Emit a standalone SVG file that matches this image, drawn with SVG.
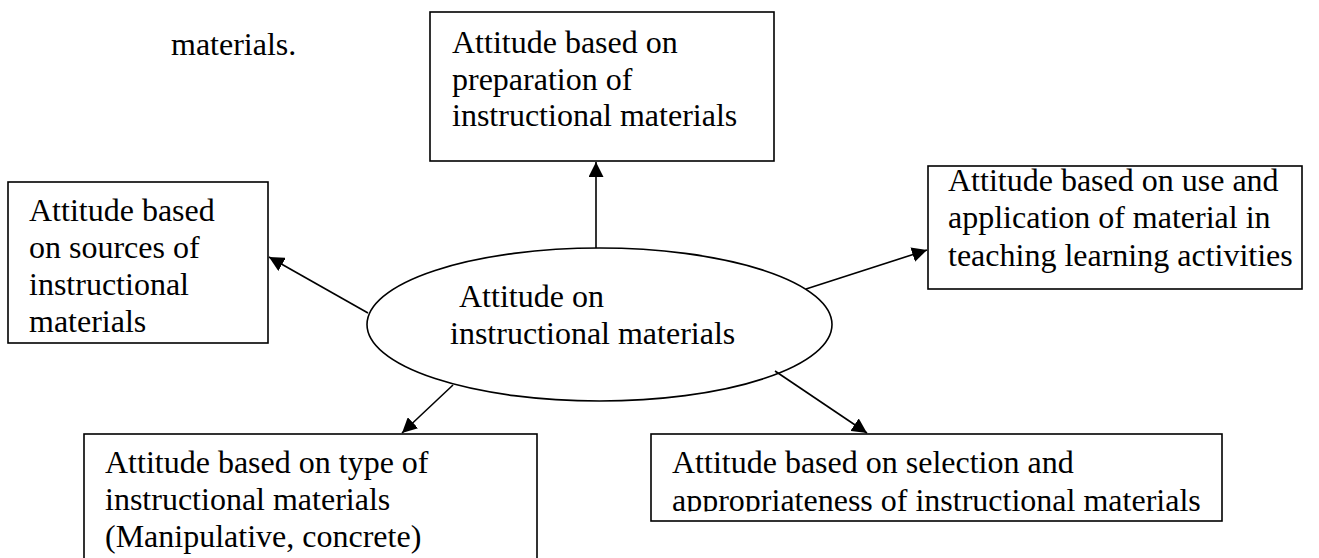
<svg xmlns="http://www.w3.org/2000/svg" width="1319" height="558" viewBox="0 0 1319 558">
<style>
.box{fill:#fff;stroke:#000;stroke-width:1.6}
text{font-family:'Liberation Serif','Times New Roman',Times,serif;font-size:32px;fill:#000}
.c{stroke:#000;stroke-width:1.6;fill:none}
</style>
<defs>
<marker id="ah" viewBox="0 0 15 15" refX="15" refY="7.5" markerWidth="15" markerHeight="15" markerUnits="userSpaceOnUse" orient="auto">
<path d="M0,0 L15,7.5 L0,15 Z" fill="#000"/>
</marker>
<clipPath id="clipSel"><rect x="651" y="434" width="571" height="77.5"/></clipPath>
</defs>
<rect width="1319" height="558" fill="#fff"/>
<g font-family="Liberation Serif, serif" font-size="32">
<text x="171" y="55">materials.</text>
<g id="preparation">
<rect class="box" x="430" y="12" width="344" height="149"/>
<text x="452" y="53">Attitude based on</text>
<text x="452" y="90">preparation of</text>
<text x="452" y="126">instructional materials</text>
</g>
<g id="sources">
<rect class="box" x="8" y="182" width="260" height="161"/>
<text x="29" y="221">Attitude based</text>
<text x="29" y="258">on sources of</text>
<text x="29" y="295">instructional</text>
<text x="29" y="332">materials</text>
</g>
<g id="use">
<rect class="box" x="928" y="166" width="374" height="123"/>
<text x="948" y="191">Attitude based on use and</text>
<text x="948" y="228">application of material in</text>
<text x="948" y="266">teaching learning activities</text>
</g>
<g id="center">
<ellipse class="box" cx="599.5" cy="324.5" rx="232.5" ry="76.5"/>
<text x="459" y="307">Attitude on</text>
<text x="450" y="344">instructional materials</text>
</g>
<g id="type">
<rect class="box" x="84" y="434" width="453" height="140"/>
<text x="105" y="473">Attitude based on type of</text>
<text x="105" y="510">instructional materials</text>
<text x="105" y="547">(Manipulative, concrete)</text>
</g>
<g id="selection">
<rect class="box" x="651" y="434" width="571" height="87"/>
<g clip-path="url(#clipSel)">
<text x="672" y="473">Attitude based on selection and</text>
<text x="672" y="511">appropriateness of instructional materials</text>
</g>
</g>
</g>
<g id="connectors">
<line class="c" x1="596" y1="248" x2="596" y2="162" marker-end="url(#ah)"/>
<line class="c" x1="368" y1="313" x2="269" y2="257" marker-end="url(#ah)"/>
<line class="c" x1="806" y1="289" x2="927" y2="250" marker-end="url(#ah)"/>
<line class="c" x1="453" y1="385" x2="402" y2="433" marker-end="url(#ah)"/>
<line class="c" x1="775" y1="371" x2="867" y2="433" marker-end="url(#ah)"/>
</g>
</svg>
